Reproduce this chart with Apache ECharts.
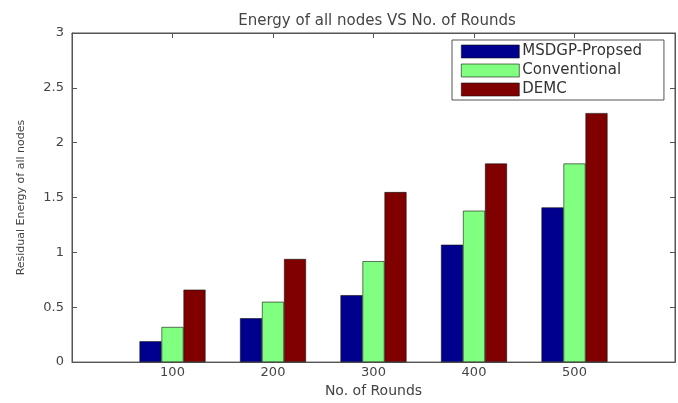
<!DOCTYPE html>
<html><head><meta charset="utf-8">
<script src="https://cdn.jsdelivr.net/npm/echarts@6/dist/echarts.min.js"></script>
<style>html,body{margin:0;padding:0;background:#fff}#c{width:678px;height:403px}</style>
</head><body><div id="c"></div>
<script>
const rounds = [100, 200, 300, 400, 500];
const seriesNames = ['MSDGP-Propsed', 'Conventional', 'DEMC'];
const msdgp = [0.19, 0.40, 0.61, 1.07, 1.41];
const conventional = [0.32, 0.55, 0.92, 1.38, 1.81];
const demc = [0.66, 0.94, 1.55, 1.81, 2.27];
const yTicks = [0, 0.5, 1, 1.5, 2, 2.5, 3];
const colors = ['#00008f', '#80ff80', '#800000'];
const FONT = 'DejaVu Sans';

const chart = echarts.init(document.getElementById('c'));
const pair = vals => rounds.map((r, i) => [r, vals[i]]);
const mk = (name, vals, c) => ({
  name, type: 'bar', xAxisIndex: 0, yAxisIndex: 0,
  data: pair(vals), barWidth: 22, barGap: '0%',
  itemStyle: {color: c, borderColor: '#111', borderWidth: 0.6},
  emphasis: {disabled: true}, animation: false
});
const xLab = v => (rounds.indexOf(v) >= 0 ? String(v) : '');
const line = {show: true, onZero: false, lineStyle: {color: '#555'}};
const tick = {show: true, inside: true, length: 5, lineStyle: {color: '#555'}};
chart.setOption({
  animation: false,
  backgroundColor: '#fff',
  title: {
    text: 'Energy of all nodes VS No. of Rounds',
    left: 372, top: 9, textAlign: 'center',
    textStyle: {fontFamily: FONT, fontSize: 15, fontWeight: 'normal', color: '#444'}
  },
  legend: {
    orient: 'vertical', left: 452, top: 40,
    padding: [4, 22, 3, 9],
    icon: 'rect',
    itemWidth: 58, itemHeight: 13, itemGap: 4,
    borderColor: '#555', borderWidth: 1, backgroundColor: '#fff',
    data: seriesNames,
    textStyle: {fontFamily: FONT, fontSize: 15, color: '#333', padding: [0, 0, 0, -2]},
    itemStyle: {borderColor: '#111', borderWidth: 0.6}
  },
  grid: {left: 72, top: 33, right: 1, bottom: 35, show: true, borderColor: '#555', borderWidth: 1, containLabel: false},
  xAxis: [{
    type: 'value', min: 0, max: 600, interval: 100, position: 'bottom',
    name: 'No. of Rounds', nameLocation: 'middle', nameGap: 20,
    nameTextStyle: {fontFamily: FONT, fontSize: 14, color: '#444'},
    axisLine: line, axisTick: tick,
    axisLabel: {formatter: xLab, fontFamily: FONT, fontSize: 13, color: '#444', margin: 4},
    splitLine: {show: false}
  }, {
    type: 'value', min: 0, max: 600, interval: 100, position: 'top',
    axisLine: line, axisTick: tick,
    axisLabel: {show: false}, splitLine: {show: false}
  }],
  yAxis: [{
    type: 'value', min: 0, max: 3, interval: 0.5, position: 'left',
    name: 'Residual Energy of all nodes', nameLocation: 'middle', nameGap: 45,
    nameTextStyle: {fontFamily: FONT, fontSize: 11, color: '#444'},
    axisLine: line, axisTick: tick,
    axisLabel: {formatter: v => (yTicks.indexOf(v) >= 0 ? String(v) : ''), fontFamily: FONT, fontSize: 13, color: '#444', margin: 8},
    splitLine: {show: false}
  }, {
    type: 'value', min: 0, max: 3, interval: 0.5, position: 'right',
    axisLine: line, axisTick: tick,
    axisLabel: {show: false}, splitLine: {show: false}
  }],
  series: [
    mk(seriesNames[0], msdgp, colors[0]),
    mk(seriesNames[1], conventional, colors[1]),
    mk(seriesNames[2], demc, colors[2])
  ]
});
</script></body></html>
